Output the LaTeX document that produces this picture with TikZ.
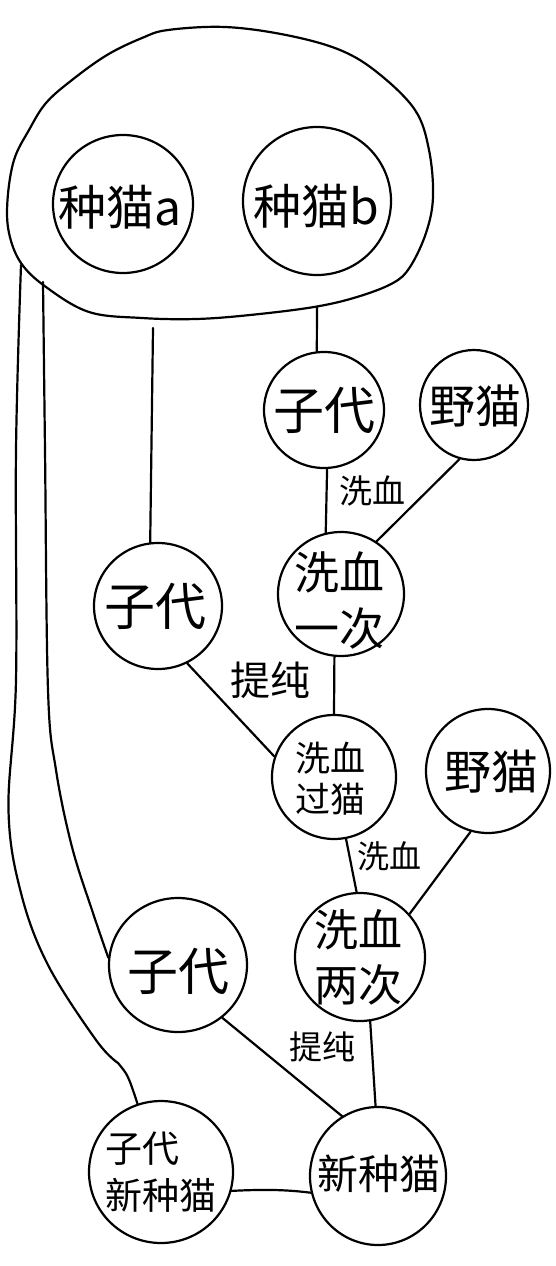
\documentclass[tikz,border=0pt]{standalone}
\usepackage{fontspec}
\newfontfamily\cjk{Noto Sans CJK SC}
\usetikzlibrary{shapes.geometric}
\newcommand\cfs[2]{\cjk\fontsize{#1}{#2}\selectfont}
\tikzset{
  cat/.style={draw,ellipse,inner sep=0pt},
  txt/.style={inner sep=0pt}
}
\begin{document}
\begin{tikzpicture}[x=1pt,y=-1pt,line width=2.2pt,line cap=round,line join=round]
\useasboundingbox (0,0) rectangle (556,1266);
% outer blob
\draw plot[smooth cycle,tension=0.6] coordinates {
 (225,27) (286,35) (340,50) (378,73) (415,110) (429,150) (433,197) (426,233)
 (410,267) (393,283) (357,297) (314,307) (250,315) (196,319) (142,318) (89,312)
 (46,287) (21,263) (9,233) (7.5,200) (14,160) (29,130) (46,103) (72,80) (107,55)
 (142,38) (168,30)};
% circles
\node[cat,minimum width=140pt,minimum height=138pt] (A) at (123,204) {};
\node[cat,minimum width=148pt,minimum height=148pt] (B) at (317,201) {};
\node[cat,minimum width=120pt,minimum height=116pt] (K1) at (324,410) {};
\node[cat,minimum width=108pt,minimum height=110pt] (W1) at (474,405) {};
\node[cat,minimum width=126pt,minimum height=124pt] (X1) at (341,594) {};
\node[cat,minimum width=128pt,minimum height=126pt] (K2) at (158,606) {};
\node[cat,minimum width=124pt,minimum height=124pt] (P1) at (334,777) {};
\node[cat,minimum width=124pt,minimum height=124pt] (W2) at (488,771) {};
\node[cat,minimum width=130pt,minimum height=128pt] (X2) at (360,957) {};
\node[cat,minimum width=138pt,minimum height=134pt] (K3) at (178,965) {};
\node[cat,minimum width=144pt,minimum height=142pt] (C) at (161,1172) {};
\node[cat,minimum width=136pt,minimum height=138pt] (N) at (378,1176) {};
% texts
\node[txt,font=\cfs{48}{56}] (tA) at (120,207) {种猫a};
\node[txt,font=\cfs{48}{56}] (tB) at (316,206) {种猫b};
\node[txt,font=\cfs{51}{60}] (tK1) at (324,410) {子代};
\node[txt,font=\cfs{46}{54}] (tW1) at (475,406) {野猫};
\node[txt,font=\cfs{45}{56},align=center] (tX1) at (339,600) {洗血\\一次};
\node[txt,font=\cfs{51}{60}] (tK2) at (155,606) {子代};
\node[txt,font=\cfs{35}{41},align=center] (tP1) at (330,779) {洗血\\过猫};
\node[txt,font=\cfs{47}{56}] (tW2) at (491,772) {野猫};
\node[txt,font=\cfs{44}{55},align=center] (tX2) at (358,957) {洗血\\两次};
\node[txt,font=\cfs{51}{60}] (tK3) at (178,971) {子代};
\node[txt,font=\cfs{37}{47},align=left,anchor=west] (tC) at (104,1172) {子代\\新种猫};
\node[txt,font=\cfs{41}{48}] (tN) at (379,1174) {新种猫};
% edge labels
\node[txt,font=\cfs{33}{33}] (l1) at (372,491) {洗血};
\node[txt,font=\cfs{40}{40}] (l2) at (270,680) {提纯};
\node[txt,font=\cfs{32}{32}] (l3) at (389,856) {洗血};
\node[txt,font=\cfs{33}{33}] (l4) at (322,1047) {提纯};
% blob anchor points
\coordinate (bK1) at (317,307);
\coordinate (bK2) at (153,328);
\coordinate (bB) at (43,282);
\coordinate (bA) at (21,265);
% connectors
\draw (bK1) -- (K1.97);
\draw (K1.-87) -- (X1.104);
\draw (W1.-105) -- (X1.56);
\draw (X1.-96) -- (P1.north);
\draw (bK2) -- (K2.97);
\draw (K2.-63) -- (P1.161);
\draw (P1.-79) -- (X2.93);
\draw (W2.-106) -- (X2.41);
\draw (K3.-50) -- (N.121);
\draw (X2.-81) -- (N.92);
\draw (C.-15) .. controls (268,1189) and (289,1190) .. (N.-166);
\draw plot[smooth,tension=0.6] coordinates {(bB) (45,450) (48,690) (56,770) (72,847) (93,913) (K3.174)};
\draw plot[smooth,tension=0.6] coordinates {(bA) (16,450) (16,680) (8.5,810) (21,893) (48,965) (96,1040) (118,1063)}
  .. controls (128,1075) .. (C.109);
\end{tikzpicture}
\end{document}
